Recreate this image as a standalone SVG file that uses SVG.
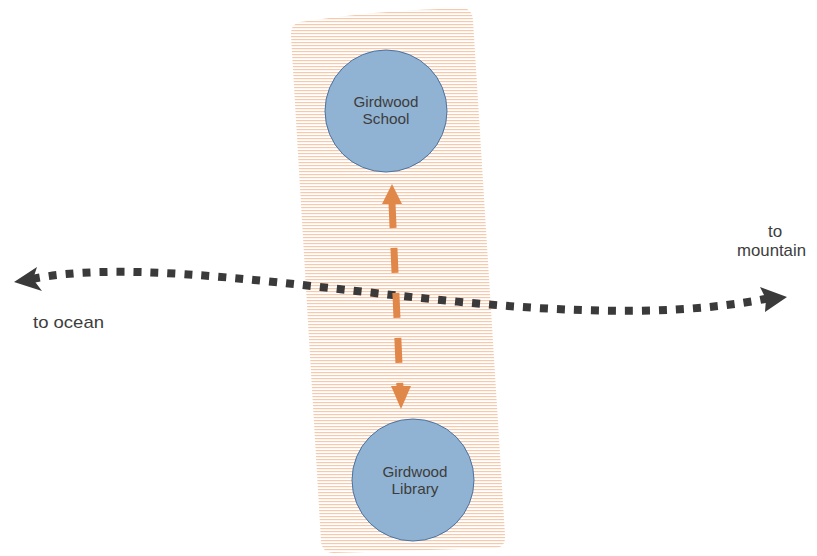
<svg xmlns="http://www.w3.org/2000/svg" width="817" height="556" viewBox="0 0 817 556">
<defs>
<pattern id="hatch" width="8" height="3" patternUnits="userSpaceOnUse">
<rect x="0" y="0" width="8" height="1.2" fill="#f6c9ad"/>
</pattern>
</defs>
<style>
.node circle{fill:#91b3d3;stroke:#4a73a0;stroke-width:1}
.lbl{font-family:"Liberation Sans",Arial,sans-serif;font-size:15px;fill:#3d3d3d;text-anchor:middle}
.side{font-family:"Liberation Sans",Arial,sans-serif;font-size:17px;fill:#3d3d3d}
</style>
<g id="zone">
<path d="M300,22 Q380,10 462,8 Q472,8 473,20 L505,535 Q506,548 494,548 L334,553 Q322,553 321,541 L291,36 Q290,24 300,22 Z" fill="url(#hatch)"/>
</g>
<g id="school" class="node">
<circle cx="386" cy="111" r="61"/>
<text class="lbl" x="386" y="107" textLength="65" lengthAdjust="spacingAndGlyphs">Girdwood</text>
<text class="lbl" x="386" y="124" textLength="47" lengthAdjust="spacingAndGlyphs">School</text>
</g>
<g id="library" class="node">
<circle cx="413" cy="480" r="61"/>
<text class="lbl" x="415" y="477" textLength="65" lengthAdjust="spacingAndGlyphs">Girdwood</text>
<text class="lbl" x="415" y="494" textLength="47" lengthAdjust="spacingAndGlyphs">Library</text>
</g>
<g id="connectors">
<path d="M32,279 C200,245 540,345 770,298" fill="none" stroke="#3a3a3a" stroke-width="8" stroke-dasharray="8,9"/>
<polygon points="14,282 37,267 33,279 42,291" fill="#3a3a3a"/>
<polygon points="787,297 760,287 766,299 765,312" fill="#3a3a3a"/>
<line x1="392" y1="203" x2="400" y2="388" stroke="#e0874a" stroke-width="7" stroke-dasharray="25,20"/>
<polygon points="392,184 382,204 402,204" fill="#e0874a"/>
<polygon points="401,409 391,386 411,386" fill="#e0874a"/>
</g>
<g id="labels">
<text class="side" x="33" y="328" textLength="71" lengthAdjust="spacingAndGlyphs">to ocean</text>
<text class="side" x="775" y="237" text-anchor="middle">to</text>
<text class="side" x="737" y="256" textLength="69" lengthAdjust="spacingAndGlyphs">mountain</text>
</g>
</svg>
